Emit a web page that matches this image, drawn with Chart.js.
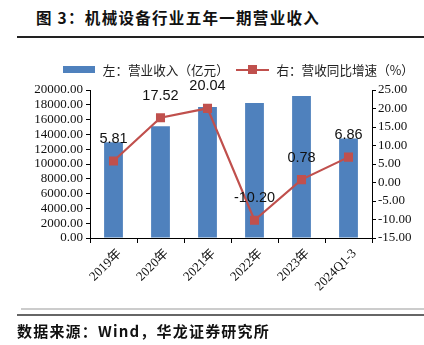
<!DOCTYPE html>
<html>
<head>
<meta charset="utf-8">
<script src="https://cdn.jsdelivr.net/npm/chart.js@4"></script>
<style>
  body { margin: 0; background: #fff; }
  #wrap { position: relative; width: 424px; height: 345px; overflow: hidden; font-family: "Noto Sans CJK SC", sans-serif; }
  #title { position: absolute; left: 36px; top: 6px; font-size: 15.5px; font-weight: bold; letter-spacing: 1.3px; color: #111; white-space: nowrap; }
  #source { position: absolute; left: 17px; top: 320px; font-size: 15px; font-weight: bold; letter-spacing: 1.2px; color: #111; white-space: nowrap; }
  .rule { position: absolute; right: 0; }
  #legend { position: absolute; left: 63px; top: 58px; font-size: 12.6px; color: #222; white-space: nowrap; }
  #legend span { display: inline-block; vertical-align: middle; }
  canvas { position: absolute; left: 0; top: 0; }
</style>
</head>
<body>
<div id="wrap">
  <div id="title">图 3：机械设备行业五年一期营业收入</div>
  <div class="rule" style="left:17px; top:36px; height:1.5px; background:#222;"></div>
  <canvas id="chart" width="424" height="345"></canvas>
  <div id="legend">
    <span style="width:32px; height:7px; background:#4F81BD;"></span>
    <span style="margin-left:5px;">左：营业收入（亿元）</span>
    <span style="position:relative; width:33px; height:10px; margin-left:4px;">
      <span style="position:absolute; left:0; top:4px; width:33px; height:2.2px; background:#C0504D;"></span>
      <span style="position:absolute; left:12px; top:0.5px; width:9px; height:9px; background:#C0504D;"></span>
    </span>
    <span style="margin-left:5px;">右：营收同比增速（%）</span>
  </div>
  <div class="rule" style="left:21px; top:308px; height:1.5px; background:#ccc;"></div>
  <div class="rule" style="left:17px; top:314px; height:1.5px; background:#666;"></div>
  <div id="source">数据来源：Wind，华龙证券研究所</div>
</div>
<script>
// 数据
const categories = ['2019年', '2020年', '2021年', '2022年', '2023年', '2024Q1-3'];
const revenue = [12950, 15100, 17700, 18250, 19200, 13450];   // 营业收入（亿元）
const growth = [5.81, 17.52, 20.04, -10.20, 0.78, 6.86];      // 同比增速（%）
const leftTicks = { min: 0, max: 20000, step: 2000 };
const rightTicks = { min: -15, max: 25, step: 5 };

const serif = "'Liberation Serif', 'Noto Sans CJK SC', serif";

// 折线上方的数值标签
const valueLabels = {
    id: 'valueLabels',
    afterDatasetsDraw(chart) {
        const ctx = chart.ctx;
        const meta = chart.getDatasetMeta(0);
        ctx.save();
        ctx.font = "14.5px 'Liberation Sans', sans-serif";
        ctx.fillStyle = '#111';
        ctx.textAlign = 'center';
        ctx.textBaseline = 'middle';
        meta.data.forEach((pt, i) => {
            ctx.fillText(growth[i].toFixed(2), pt.x, pt.y - 22);
        });
        ctx.restore();
    }
};

const ctx = document.getElementById('chart').getContext('2d');
new Chart(ctx, {
    data: {
        labels: categories,
        datasets: [{
            type: 'line',
            label: '右：营收同比增速（%）',
            data: growth,
            yAxisID: 'y1',
            borderColor: '#C0504D',
            backgroundColor: '#C0504D',
            borderWidth: 2.2,
            pointStyle: 'rect',
            pointRadius: 6.4,
            pointBorderWidth: 0,
            tension: 0,
            order: 0
        }, {
            type: 'bar',
            label: '左：营业收入（亿元）',
            data: revenue,
            yAxisID: 'y',
            backgroundColor: '#4F81BD',
            barPercentage: 0.4,
            categoryPercentage: 1,
            order: 1
        }]
    },
    options: {
        responsive: false,
        animation: false,
        devicePixelRatio: 1,
        layout: { padding: { top: 90, left: 0, right: 0, bottom: 0 } },
        plugins: {
            legend: { display: false },
            tooltip: { enabled: false }
        },
        scales: {
            x: {
                grid: { offset: true, drawOnChartArea: false, tickLength: 5, color: '#000' },
                border: { color: '#000', width: 1 },
                ticks: { font: { family: serif, size: 13 }, color: '#111', minRotation: 45, maxRotation: 45,
                    padding: 3, labelOffset: 6, autoSkip: false },
                afterFit: s => { s.height = 107; }
            },
            y: {
                position: 'left',
                min: leftTicks.min,
                max: leftTicks.max,
                grid: { drawOnChartArea: false, tickLength: 4, color: '#000' },
                border: { color: '#000', width: 1 },
                ticks: { stepSize: leftTicks.step, autoSkip: false, font: { family: serif, size: 13 }, color: '#111', padding: 3,
                    callback: v => v.toFixed(2) },
                afterFit: s => { s.width = 90; }
            },
            y1: {
                position: 'right',
                min: rightTicks.min,
                max: rightTicks.max,
                grid: { drawOnChartArea: false, tickLength: 4, color: '#000' },
                border: { color: '#000', width: 1 },
                ticks: { stepSize: rightTicks.step, autoSkip: false, font: { family: serif, size: 13 }, color: '#111', padding: 2,
                    callback: v => v.toFixed(2) },
                afterFit: s => { s.width = 52; }
            }
        }
    },
    plugins: [valueLabels]
});
</script>
</body>
</html>
